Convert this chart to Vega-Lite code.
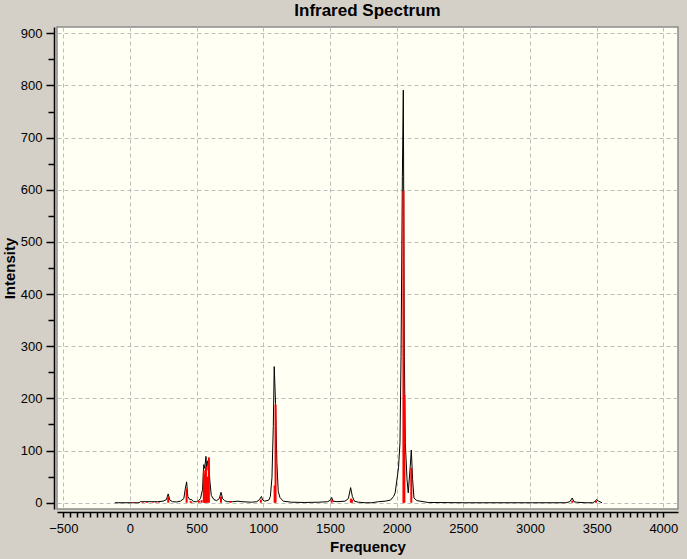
{
  "$schema": "https://vega.github.io/schema/vega-lite/v6.json",
  "width": 621,
  "height": 482,
  "autosize": {"type": "none"},
  "padding": {"left": 57, "top": 27, "right": 9, "bottom": 50},
  "background": "#d4d0c8",
  "title": {
    "text": "Infrared Spectrum",
    "font": "Liberation Sans",
    "fontSize": 17,
    "fontWeight": "bold",
    "color": "#000000",
    "anchor": "middle",
    "offset": 7
  },
  "config": {
    "view": {"fill": "#fffff3", "stroke": "#8c8c8c", "strokeWidth": 1.5},
    "axis": {
      "labelFont": "Liberation Sans",
      "labelFontSize": 13,
      "labelColor": "#000000",
      "titleFont": "Liberation Sans",
      "titleFontSize": 15,
      "titleFontWeight": "bold",
      "titleColor": "#000000",
      "domainColor": "#000000",
      "domainWidth": 1.5,
      "tickColor": "#000000",
      "tickWidth": 1.5,
      "gridColor": "#bdbdbd",
      "gridDash": [4, 3],
      "gridWidth": 1
    }
  },
  "datasets": {
    "curve": [
      {"freq": -113, "intensity": 0}, {"freq": 68, "intensity": 0}, {"freq": 78, "intensity": 2},
      {"freq": 208, "intensity": 2}, {"freq": 248, "intensity": 3}, {"freq": 273, "intensity": 6},
      {"freq": 287, "intensity": 17}, {"freq": 299, "intensity": 5}, {"freq": 319, "intensity": 2},
      {"freq": 349, "intensity": 1.5}, {"freq": 379, "intensity": 3}, {"freq": 404, "intensity": 8},
      {"freq": 414, "intensity": 25}, {"freq": 425, "intensity": 40}, {"freq": 434, "intensity": 12},
      {"freq": 449, "intensity": 6}, {"freq": 464, "intensity": 6}, {"freq": 479, "intensity": 2},
      {"freq": 499, "intensity": 2}, {"freq": 514, "intensity": 4}, {"freq": 529, "intensity": 8},
      {"freq": 544, "intensity": 25}, {"freq": 554, "intensity": 73}, {"freq": 561, "intensity": 66},
      {"freq": 570, "intensity": 89}, {"freq": 576, "intensity": 62}, {"freq": 582, "intensity": 80},
      {"freq": 590, "intensity": 78}, {"freq": 600, "intensity": 40}, {"freq": 610, "intensity": 14},
      {"freq": 630, "intensity": 6}, {"freq": 650, "intensity": 4}, {"freq": 670, "intensity": 8},
      {"freq": 683, "intensity": 20}, {"freq": 695, "intensity": 8}, {"freq": 710, "intensity": 4},
      {"freq": 730, "intensity": 2}, {"freq": 770, "intensity": 2}, {"freq": 810, "intensity": 3},
      {"freq": 840, "intensity": 2}, {"freq": 911, "intensity": 1}, {"freq": 951, "intensity": 2},
      {"freq": 971, "intensity": 6}, {"freq": 986, "intensity": 12}, {"freq": 996, "intensity": 5},
      {"freq": 1011, "intensity": 3}, {"freq": 1041, "intensity": 5}, {"freq": 1053, "intensity": 12},
      {"freq": 1065, "intensity": 48}, {"freq": 1075, "intensity": 146}, {"freq": 1082, "intensity": 261},
      {"freq": 1092, "intensity": 190}, {"freq": 1102, "intensity": 77}, {"freq": 1112, "intensity": 22},
      {"freq": 1125, "intensity": 10}, {"freq": 1150, "intensity": 3}, {"freq": 1212, "intensity": 1},
      {"freq": 1312, "intensity": 0.5}, {"freq": 1412, "intensity": 1}, {"freq": 1483, "intensity": 2},
      {"freq": 1503, "intensity": 5}, {"freq": 1513, "intensity": 10}, {"freq": 1523, "intensity": 3},
      {"freq": 1553, "intensity": 2}, {"freq": 1613, "intensity": 3}, {"freq": 1638, "intensity": 8},
      {"freq": 1655, "intensity": 29}, {"freq": 1668, "intensity": 12}, {"freq": 1683, "intensity": 3},
      {"freq": 1713, "intensity": 1}, {"freq": 1764, "intensity": 0}, {"freq": 1814, "intensity": 0},
      {"freq": 1864, "intensity": 2}, {"freq": 1914, "intensity": 3}, {"freq": 1954, "intensity": 5},
      {"freq": 1977, "intensity": 12}, {"freq": 1989, "intensity": 19}, {"freq": 2014, "intensity": 67},
      {"freq": 2025, "intensity": 115}, {"freq": 2033, "intensity": 280}, {"freq": 2043, "intensity": 625},
      {"freq": 2050, "intensity": 791}, {"freq": 2058, "intensity": 280}, {"freq": 2065, "intensity": 115},
      {"freq": 2078, "intensity": 44}, {"freq": 2087, "intensity": 19}, {"freq": 2102, "intensity": 70},
      {"freq": 2110, "intensity": 101}, {"freq": 2120, "intensity": 44}, {"freq": 2130, "intensity": 9},
      {"freq": 2152, "intensity": 4}, {"freq": 2237, "intensity": 0.5}, {"freq": 2516, "intensity": 0},
      {"freq": 3018, "intensity": 0}, {"freq": 3269, "intensity": 0}, {"freq": 3299, "intensity": 2},
      {"freq": 3317, "intensity": 9}, {"freq": 3329, "intensity": 2}, {"freq": 3349, "intensity": 1},
      {"freq": 3419, "intensity": 0}, {"freq": 3470, "intensity": 0}, {"freq": 3485, "intensity": 2},
      {"freq": 3498, "intensity": 6}, {"freq": 3515, "intensity": 3}, {"freq": 3540, "intensity": 0}
    ],
    "sticks": [
      {"freq": 23, "intensity": 1}, {"freq": 45, "intensity": 1}, {"freq": 98, "intensity": 1},
      {"freq": 128, "intensity": 1.5}, {"freq": 172, "intensity": 1}, {"freq": 195, "intensity": 1},
      {"freq": 217, "intensity": 1}, {"freq": 287, "intensity": 12}, {"freq": 425, "intensity": 27},
      {"freq": 455, "intensity": 3}, {"freq": 462, "intensity": 2}, {"freq": 517, "intensity": 4},
      {"freq": 537, "intensity": 5}, {"freq": 554, "intensity": 62}, {"freq": 561, "intensity": 55},
      {"freq": 570, "intensity": 70}, {"freq": 578, "intensity": 50}, {"freq": 592, "intensity": 87},
      {"freq": 683, "intensity": 12}, {"freq": 755, "intensity": 3}, {"freq": 982, "intensity": 6},
      {"freq": 1085, "intensity": 33}, {"freq": 1092, "intensity": 188}, {"freq": 1513, "intensity": 6},
      {"freq": 1657, "intensity": 8}, {"freq": 1665, "intensity": 6}, {"freq": 2051, "intensity": 598},
      {"freq": 2058, "intensity": 207}, {"freq": 2110, "intensity": 67}, {"freq": 3317, "intensity": 4},
      {"freq": 3495, "intensity": 4}
    ]
  },
  "resolve": {"axis": {"x": "independent", "y": "independent"}},
  "layer": [
    {
      "data": {"name": "curve"},
      "mark": {"type": "line", "color": "#000000", "strokeWidth": 1},
      "encoding": {
        "x": {
          "field": "freq",
          "type": "quantitative",
          "scale": {"domain": [-547, 4110], "nice": false, "zero": false},
          "axis": {
            "orient": "bottom",
            "offset": 3,
            "values": [-500, 0, 500, 1000, 1500, 2000, 2500, 3000, 3500, 4000],
            "format": "d",
            "tickSize": 5,
            "labelPadding": 5,
            "grid": true,
            "title": "Frequency",
            "titlePadding": 4
          }
        },
        "y": {
          "field": "intensity",
          "type": "quantitative",
          "scale": {"domain": [-12, 912], "nice": false},
          "axis": {
            "orient": "left",
            "offset": 3,
            "values": [0, 100, 200, 300, 400, 500, 600, 700, 800, 900],
            "format": "d",
            "tickSize": 8,
            "labelPadding": 4,
            "grid": true,
            "title": "Intensity",
            "titlePadding": 3
          }
        }
      }
    },
    {
      "data": {"name": "sticks"},
      "mark": {"type": "rule", "color": "#ff0000", "strokeWidth": 2},
      "encoding": {
        "x": {
          "field": "freq",
          "type": "quantitative",
          "axis": {
            "orient": "bottom",
            "offset": 3,
            "values": [-450, -400, -350, -300, -250, -200, -150, -100, -50, 50, 100, 150, 200, 250, 300, 350, 400, 450, 550, 600, 650, 700, 750, 800, 850, 900, 950, 1050, 1100, 1150, 1200, 1250, 1300, 1350, 1400, 1450, 1550, 1600, 1650, 1700, 1750, 1800, 1850, 1900, 1950, 2050, 2100, 2150, 2200, 2250, 2300, 2350, 2400, 2450, 2550, 2600, 2650, 2700, 2750, 2800, 2850, 2900, 2950, 3050, 3100, 3150, 3200, 3250, 3300, 3350, 3400, 3450, 3550, 3600, 3650, 3700, 3750, 3800, 3850, 3900, 3950],
            "tickSize": 5,
            "labels": false,
            "domain": false,
            "grid": false,
            "title": null
          }
        },
        "y": {
          "field": "intensity",
          "type": "quantitative",
          "axis": {
            "orient": "left",
            "offset": 3,
            "values": [50, 150, 250, 350, 450, 550, 650, 750, 850],
            "tickSize": 6,
            "labels": false,
            "domain": false,
            "grid": false,
            "title": null
          }
        },
        "y2": {"datum": 0}
      }
    }
  ]
}
